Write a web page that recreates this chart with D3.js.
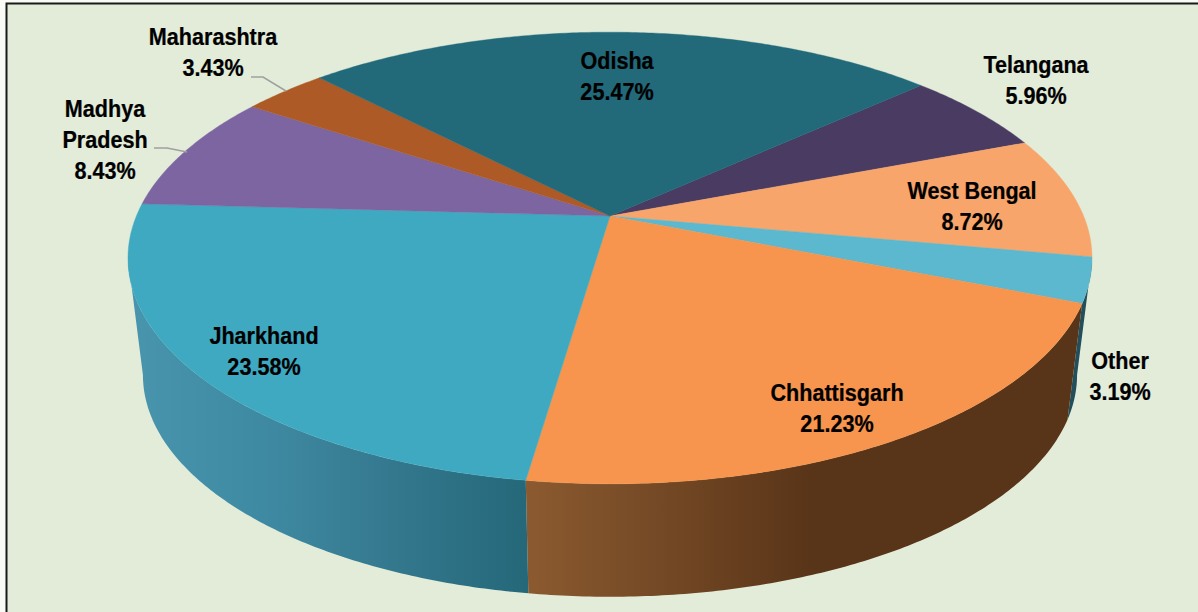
<!DOCTYPE html>
<html><head><meta charset="utf-8">
<script src="https://cdn.jsdelivr.net/npm/d3@7/dist/d3.min.js"></script>
<style>html,body{margin:0;padding:0;background:#f8fbf6}svg{display:block}
text{font-family:"Liberation Sans",sans-serif;font-weight:700;font-size:24px;fill:#000;stroke:#000;stroke-width:0.25px;text-anchor:middle}</style>
</head><body><svg id="c" width="1198" height="612"></svg>
<script>
const categories = ["Telangana","West Bengal","Other","Chhattisgarh","Jharkhand","Madhya Pradesh","Maharashtra","Odisha"];
const values = [5.96,8.72,3.19,21.23,23.58,8.43,3.43,25.47];
const labelLines = [["Telangana"],["West Bengal"],["Other"],["Chhattisgarh"],["Jharkhand"],["Madhya","Pradesh"],["Maharashtra"],["Odisha"]];
const topColors = ["#4a3b63","#f8a56b","#5cb8ce","#f7944d","#3fa9c1","#7c65a1","#ad5a26","#22697a"];
const sideStops = {Other:["#234f5c","#234f5c"],Chhattisgarh:["#8c5a30","#7a4e28","#6a4120","#583418"],Jharkhand:["#4a95ae","#3f8aa3","#34788e","#25687a"]};
const labelAnchors = [[1036,73],[972,199],[1120,369],[837,401],[264,344],[105,117],[213,45],[617,69]];
const lineHeight = 31;
const leaders = [[[251,77],[263,77],[286,91]],[[154,148],[167,148],[187,152]]];

const svg = d3.select("#c");
const W=1198,H=612;
svg.append("rect").attr("x",6).attr("y",3).attr("width",W).attr("height",H).attr("fill","#e2ecd9");
svg.append("path").attr("d",`M6.5,${H}V3.5H${W}`).attr("fill","none").attr("stroke","#1a1a1a").attr("stroke-width",2);

// Perspective projection of the unit disc
const cx=610, apexY=216, k=0.186, A=218, B=473.6;
const topMidY=258, botMidY=375, sx=0.969, sy=0.982;
function proj(a,r=1){ // a clockwise from 12 o'clock
  const X=r*Math.sin(a), Y=-r*Math.cos(a), d=1-k*Y;
  return [cx+B*X/d, apexY+A*Y/d];
}
function projBottom(a){
  const [x,y]=proj(a);
  return [cx+(x-cx)*sx, botMidY+(y-topMidY)*sy];
}
const toRad=d3.scaleLinear().domain([0,360]).range([0,2*Math.PI]);
const startDeg=47.6;
const pie=d3.pie().sort(null).startAngle(toRad(startDeg)).endAngle(toRad(startDeg+360)).value(d=>d);
const arcs=pie(values);
const line=d3.line();
const sample=(a0,a1)=>{const n=Math.max(2,Math.ceil((a1-a0)/0.01));return d3.range(n+1).map(i=>a0+(a1-a0)*i/n)};

// silhouette limits of the wall: the rightmost and leftmost points of the rim
const rim=sample(0,2*Math.PI);
const aRight=rim[d3.greatestIndex(rim,t=>proj(t)[0])];
const aLeft=rim[d3.leastIndex(rim,t=>proj(t)[0])];

// side walls
const defs=svg.append("defs");
const sides=categories.map((c,i)=>({c,i})).filter(d=>sideStops[d.c]);
sides.forEach(({c,i})=>{
  const a=arcs[i];
  const angles=sample(Math.max(a.startAngle,aRight),Math.min(a.endAngle,aLeft));
  const pts=[...angles.map(t=>proj(t)),...angles.slice().reverse().map(t=>projBottom(t))];
  const xs=pts.map(p=>p[0]);
  const id="g"+i;
  const stops=sideStops[c];
  let x1,x2;
  if(c==="Chhattisgarh"){x1=proj(a.endAngle)[0];x2=815;}
  else if(c==="Jharkhand"){x1=d3.min(xs);x2=proj(a.startAngle)[0];}
  else {x1=d3.min(xs);x2=d3.max(xs);}
  const g=defs.append("linearGradient").attr("id",id).attr("gradientUnits","userSpaceOnUse")
    .attr("x1",x1).attr("x2",x2).attr("y1",0).attr("y2",0);
  stops.forEach((s,j)=>g.append("stop").attr("offset",j/(stops.length-1)).attr("stop-color",s));
  svg.append("path").attr("d",line(pts)+"Z").attr("fill",`url(#${id})`);
});

// top surface
arcs.forEach((a,i)=>{
  const pts=[proj(0,0),...sample(a.startAngle,a.endAngle).map(t=>proj(t))];
  svg.append("path").attr("d",line(pts)+"Z").attr("fill",topColors[i]).attr("stroke",topColors[i]).attr("stroke-width",0.4);
});

// leaders
leaders.forEach(l=>svg.append("path").attr("d",line(l)).attr("fill","none").attr("stroke","#a0a0a0").attr("stroke-width",1.5));

// labels
categories.forEach((c,i)=>{
  const lines=[...labelLines[i],values[i].toFixed(2)+"%"];
  const [x,y]=labelAnchors[i];
  const g=svg.append("g").attr("transform",`translate(${x},${y}) scale(0.9,1)`);
  lines.forEach((s,j)=>g.append("text").attr("x",0).attr("y",j*lineHeight).text(s));
});
</script></body></html>
